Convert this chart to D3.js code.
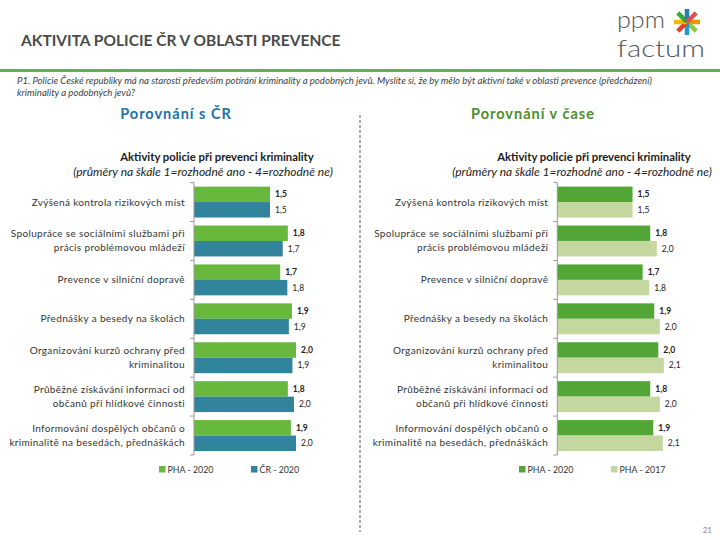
<!DOCTYPE html>
<html><head><meta charset="utf-8">
<script src="https://cdn.jsdelivr.net/npm/d3@7"></script>
<style>
html,body{margin:0;padding:0;background:#fff;}
svg{display:block;font-family:Lato, "Open Sans", sans-serif;}
</style></head>
<body><svg id="c" width="720" height="540"></svg>
<script>
const categories = [
  "Zvýšená kontrola rizikových míst",
  "Spolupráce se sociálními službami při\nprácis problémovou mládeží",
  "Prevence v silniční dopravě",
  "Přednášky a besedy na školách",
  "Organizování kurzů ochrany před\nkriminalitou",
  "Průběžné získávání informací od\nobčanů při hlídkové činnosti",
  "Informování dospělých občanů o\nkriminalitě na besedách, přednáškách"
];
const pha2020 = [1.49, 1.84, 1.69, 1.92, 2.00, 1.84, 1.90];
const cr2020  = [1.49, 1.74, 1.83, 1.86, 1.93, 1.96, 2.00];
const pha2017 = [1.49, 1.97, 1.82, 2.03, 2.11, 2.03, 2.09];
const leftSeries  = ["PHA - 2020", "ČR - 2020"];
const rightSeries = ["PHA - 2020", "PHA - 2017"];
const chartTitle = "Aktivity policie při prevenci kriminality";
const chartSubtitle = "(průměry na škále 1=rozhodně ano - 4=rozhodně ne)";

const svg = d3.select("#c");

// Header
svg.append("text").attr("x", 21).attr("y", 46).attr("font-size", 15.5).attr("font-weight", 700)
  .attr("fill", "#4a4a4a").text("AKTIVITA POLICIE ČR V OBLASTI PREVENCE");
svg.append("rect").attr("x", 0).attr("y", 69).attr("width", 720).attr("height", 3).attr("fill", "#6AAE45");
svg.append("text").attr("x", 17).attr("y", 84).attr("font-size", 9.6).attr("font-style", "italic").attr("fill", "#404040")
  .text("P1. Policie České republiky má na starosti především potírání kriminality a podobných jevů. Myslíte si, že by mělo být aktivní také v oblasti prevence (předcházení)");
svg.append("text").attr("x", 17).attr("y", 96).attr("font-size", 9.6).attr("font-style", "italic").attr("fill", "#404040")
  .text("kriminality a podobných jevů?");

// Logo
svg.append("text").attr("x", 617).attr("y", 28).attr("font-size", 24).attr("font-weight", 300).attr("fill", "#555")
  .attr("textLength", 48).attr("lengthAdjust", "spacingAndGlyphs").text("ppm");
svg.append("text").attr("x", 617).attr("y", 57).attr("font-size", 24).attr("font-weight", 300).attr("fill", "#555")
  .attr("textLength", 88).attr("lengthAdjust", "spacingAndGlyphs").text("factum");
const star = svg.append("g").attr("transform", "translate(687,22)");
const spokes = [[0, "#F39200"], [45, "#8DC63F"], [90, "#1D9AD6"], [135, "#E2402B"], [180, "#F7B500"], [225, "#3BAA35"], [270, "#2B7BB9"], [315, "#D9534F"]];
spokes.forEach(([a, c]) => {
  const r = a * Math.PI / 180;
  star.append("line").attr("x1", 0).attr("y1", 0).attr("x2", 13 * Math.cos(r)).attr("y2", 13 * Math.sin(r))
    .attr("stroke", c).attr("stroke-width", 4.5).attr("stroke-linecap", "butt");
});

// Section headers
svg.append("text").attr("x", 176).attr("y", 119).attr("text-anchor", "middle").attr("font-size", 14.5).attr("font-weight", 700)
  .attr("fill", "#2272A5").attr("letter-spacing", 1).text("Porovnání s ČR");
svg.append("text").attr("x", 533).attr("y", 119).attr("text-anchor", "middle").attr("font-size", 14.5).attr("font-weight", 700)
  .attr("fill", "#4E8E2C").attr("letter-spacing", 1).text("Porovnání v čase");

// Separator
svg.append("line").attr("x1", 360).attr("x2", 360).attr("y1", 115).attr("y2", 532)
  .attr("stroke", "#aaa").attr("stroke-width", 2).attr("stroke-dasharray", "3,2");

svg.append("text").attr("x", 712).attr("y", 533).attr("text-anchor", "end").attr("font-size", 8).attr("fill", "#888").text("21");

const fmt = v => (Math.round(v * 10) / 10).toFixed(1).replace(".", ",");

function drawChart(opt) {
  const g = svg.append("g");
  const x = d3.scaleLinear().domain([0, 2.5]).range([opt.x0, opt.x0 + 2.5 * opt.pxPerUnit]);
  const y = d3.scaleBand().domain(d3.range(categories.length)).range([182.6, 455]).padding(0);
  const ys = d3.scaleBand().domain(opt.series).range([4, y.bandwidth() - 4]).padding(0);

  // titles
  g.append("text").attr("x", opt.titleX).attr("y", 161).attr("text-anchor", "middle").attr("font-size", 11.3)
    .attr("font-weight", 700).attr("fill", "#1a1a1a").text(chartTitle);
  g.append("text").attr("x", opt.subX).attr("y", 176).attr("text-anchor", "middle").attr("font-size", 12)
    .attr("font-style", "italic").attr("fill", "#1a1a1a").text(chartSubtitle);

  const rows = categories.map((c, i) => ({ c, i, vals: opt.values.map((vs, k) => ({ s: opt.series[k], v: vs[i], k })) }));
  const grp = g.selectAll("g.row").data(rows).join("g").attr("class", "row")
    .attr("transform", d => `translate(0,${y(d.i)})`);
  grp.selectAll("rect").data(d => d.vals).join("rect")
    .attr("x", x(0)).attr("y", d => ys(d.s)).attr("width", d => x(d.v) - x(0)).attr("height", ys.bandwidth())
    .attr("fill", d => opt.colors[d.k]);
  grp.selectAll("text.val").data(d => d.vals).join("text").attr("class", "val")
    .attr("x", d => x(d.v) + 5).attr("y", d => ys(d.s) + ys.bandwidth() / 2 + 3)
    .attr("font-size", 8.5).attr("font-weight", d => d.k === 0 ? 700 : 400).attr("fill", "#222").text(d => fmt(d.v));
  // category labels
  grp.each(function (d) {
    const lines = d.c.split("\n");
    const t = d3.select(this).append("text").attr("text-anchor", "end").attr("font-size", 10)
      .attr("letter-spacing", 0.35).attr("fill", "#333");
    const mid = y.bandwidth() / 2;
    lines.forEach((ln, j) => {
      t.append("tspan").attr("x", opt.x0 - 9).attr("y", mid + 3.5 + (j - (lines.length - 1) / 2) * 14).text(ln);
    });
  });
  // axis with boundary ticks
  const bounds = d3.range(categories.length + 1).map(i => i < categories.length ? y(i) : y(i - 1) + y.step());
  g.append("line").attr("x1", x(0)).attr("x2", x(0)).attr("y1", bounds[0]).attr("y2", bounds[bounds.length - 1])
    .attr("stroke", "#999").attr("stroke-width", 1);
  g.selectAll("line.tk").data(bounds).join("line").attr("class", "tk")
    .attr("x1", x(0) - 4).attr("x2", x(0)).attr("y1", d => d).attr("y2", d => d).attr("stroke", "#999");

  // legend
  opt.series.forEach((s, k) => {
    const lx = opt.legendX[k];
    g.append("rect").attr("x", lx).attr("y", 466).attr("width", 6.5).attr("height", 6.5).attr("fill", opt.colors[k]);
    g.append("text").attr("x", lx + 8.5).attr("y", 473).attr("font-size", 8.8).attr("fill", "#333").text(s);
  });
}

drawChart({ x0: 194, pxPerUnit: 51, series: leftSeries, values: [pha2020, cr2020],
  colors: ["#67B83C", "#31849B"], titleX: 217, subX: 203, legendX: [159, 251] });
drawChart({ x0: 557.3, pxPerUnit: 50.5, series: rightSeries, values: [pha2020, pha2017],
  colors: ["#52A636", "#C4D79E"], titleX: 594, subX: 582, legendX: [519, 611] });
</script></body></html>
